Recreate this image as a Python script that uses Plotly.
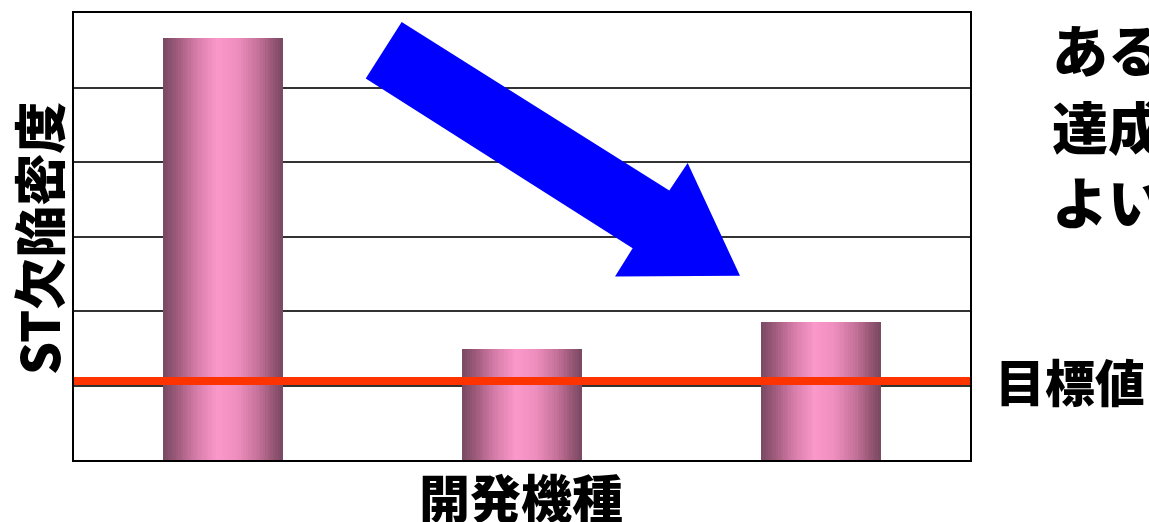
import plotly.graph_objects as go

# Defect density per development model and the target level
models = ["機種A", "機種B", "機種C"]
defect_density = [5.66, 1.49, 1.85]
target_value = 1.06

y_max = 6
bar_width = 0.4
n_slices = 48

# Horizontal cylinder-like shading: dark mauve edges, light pink centre
shade_stops = [
    (0.00, (120, 72, 98)),
    (0.12, (160, 92, 125)),
    (0.28, (215, 125, 170)),
    (0.45, (250, 152, 202)),
    (0.62, (238, 142, 190)),
    (0.80, (195, 112, 152)),
    (0.92, (150, 86, 116)),
    (1.00, (120, 72, 98)),
]


def shade(t):
    for (t0, c0), (t1, c1) in zip(shade_stops, shade_stops[1:]):
        if t0 <= t <= t1:
            f = (t - t0) / (t1 - t0) if t1 > t0 else 0
            r, g, b = (round(a + (b_ - a) * f) for a, b_ in zip(c0, c1))
            return f"rgb({r},{g},{b})"
    return "rgb(120,72,98)"


fig = go.Figure()
slice_w = bar_width / n_slices
for i in range(n_slices):
    t = (i + 0.5) / n_slices
    xs = [k - bar_width / 2 + (i + 0.5) * slice_w for k in range(len(models))]
    fig.add_trace(go.Bar(
        x=xs, y=defect_density, width=slice_w * 1.15,
        marker=dict(color=shade(t), line=dict(width=0)),
        hoverinfo="skip", showlegend=False,
    ))

# Plot area in pixels
L, R, T, B = 74, 179, 11, 62
W, H = 1149, 522
pw, ph = W - L - R, H - T - B


def px(x):
    return (x - L) / pw


def py(y):
    return (H - B - y) / ph


# Downward trend arrow
arrow_pts = [(401.7, 20), (669.3, 189.3), (687.7, 161.7), (740, 275),
             (615, 275.7), (632.7, 247.3), (365.7, 76.7)]
path = "M " + " L ".join(f"{px(x):.4f},{py(y):.4f}" for x, y in arrow_pts) + " Z"

shapes = [
    dict(type="line", xref="paper", yref="y", x0=0, x1=1,
         y0=target_value, y1=target_value,
         line=dict(color="#ff3300", width=8), layer="above"),
    dict(type="path", xref="paper", yref="paper", path=path,
         fillcolor="#0000ff", line=dict(width=0), layer="above"),
]

jp = "Noto Sans CJK JP Black, Noto Sans CJK JP, sans-serif"
big = dict(family=jp, size=51, color="black", weight=900)
side = dict(family=jp, size=56, color="black", weight=900)

annotations = [
    dict(text="ST欠陥密度", xref="paper", yref="paper",
         x=px(38), y=py(238), textangle=-90, showarrow=False,
         xanchor="center", yanchor="middle", font=dict(big, size=52)),
    dict(text="開発機種", xref="paper", yref="paper",
         x=px(521), y=py(496), showarrow=False,
         xanchor="center", yanchor="middle", font=big),
    dict(text="目標値", xref="paper", yref="paper",
         x=px(993), y=py(380), showarrow=False,
         xanchor="left", yanchor="middle", font=dict(big, size=50)),
    dict(text="ある", xref="paper", yref="paper",
         x=px(1050), y=py(46), showarrow=False,
         xanchor="left", yanchor="middle", font=side),
    dict(text="達成", xref="paper", yref="paper",
         x=px(1050), y=py(123), showarrow=False,
         xanchor="left", yanchor="middle", font=side),
    dict(text="よい", xref="paper", yref="paper",
         x=px(1050), y=py(198), showarrow=False,
         xanchor="left", yanchor="middle", font=side),
]

fig.update_layout(
    width=W, height=H,
    margin=dict(l=L, r=R, t=T, b=B, pad=0),
    paper_bgcolor="white", plot_bgcolor="white",
    barmode="overlay", bargap=0,
    shapes=shapes, annotations=annotations,
    xaxis=dict(range=[-0.5, len(models) - 0.5], showticklabels=False,
               ticks="", showgrid=False, zeroline=False,
               showline=True, mirror=True, linecolor="black", linewidth=2),
    yaxis=dict(range=[0, y_max], dtick=1, showticklabels=False, ticks="",
               showgrid=True, gridcolor="#333333", gridwidth=1.5,
               zeroline=False, showline=True, mirror=True,
               linecolor="black", linewidth=2),
)

fig.write_html("out.html")
